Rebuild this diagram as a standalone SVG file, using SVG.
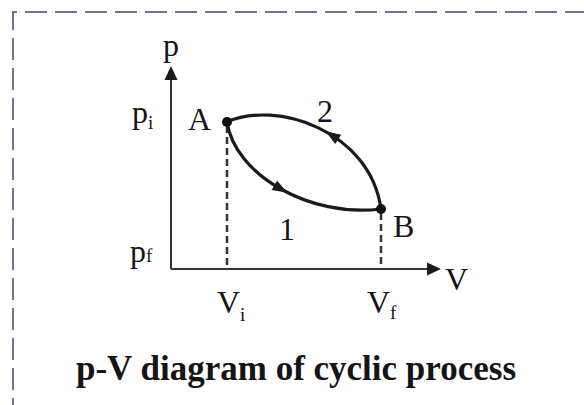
<svg xmlns="http://www.w3.org/2000/svg" width="584" height="405" viewBox="0 0 584 405">
<style>
.lbl{font-family:"Liberation Serif","Times New Roman",serif;font-size:32px;fill:#151515}
.sub{font-size:19px}
.title{font-family:"Liberation Serif","Times New Roman",serif;font-size:35px;font-weight:bold;fill:#151515}
.axis{stroke:#333;stroke-width:2;fill:none}
.curve{stroke:#1a1a1a;stroke-width:3.2;fill:none}
.guide{stroke:#333;stroke-width:2.5;stroke-dasharray:7 4;fill:none}
.head{fill:#1a1a1a}
</style>
<defs>
<path id="ah" d="M8,0 L-7,-5.5 L-7,5.5 Z"/>
</defs>
<rect width="584" height="405" fill="#fff"/>
<path d="M13,420 V12 H600" fill="none" stroke="#7d6b90" stroke-width="2" stroke-dasharray="22 8"/>
<g id="connectors">
<path class="axis" d="M171,269 V78"/>
<path class="head" d="M171,66 L164.5,80 L177.5,80 Z"/>
<path class="axis" d="M171,269 H430"/>
<path class="head" d="M441,269 L427,262.5 L427,275.5 Z"/>
<path class="guide" d="M227,126 V269"/>
<path class="guide" d="M381,213 V269"/>
<path class="curve" d="M227,122 C235,175 310,218 381,209"/>
<path class="curve" d="M227,122 C275,100 370,130 381,209"/>
<use href="#ah" class="head" transform="translate(280.4,188.7) rotate(29.6)"/>
<use href="#ah" class="head" transform="translate(332.3,135.6) rotate(212.5)"/>
</g>
<g id="nodeA"><circle cx="227" cy="122" r="5" fill="#111"/><text class="lbl" x="188" y="130">A</text></g>
<g id="nodeB"><circle cx="381" cy="209" r="5" fill="#111"/><text class="lbl" x="393" y="237">B</text></g>
<g id="label1"><text class="lbl" x="287" y="240" text-anchor="middle">1</text></g>
<g id="label2"><text class="lbl" x="325" y="122" text-anchor="middle">2</text></g>
<g id="axis-p"><text class="lbl" x="171" y="56" text-anchor="middle">p</text></g>
<g id="axis-V"><text class="lbl" x="445" y="290">V</text></g>
<g id="pi"><text class="lbl" x="132" y="123">p<tspan class="sub" dy="6">i</tspan></text></g>
<g id="pf"><text class="lbl" x="130" y="262">p<tspan class="sub" dy="0">f</tspan></text></g>
<g id="Vi"><text class="lbl" x="217" y="313">V<tspan class="sub" dy="8">i</tspan></text></g>
<g id="Vf"><text class="lbl" x="367" y="313">V<tspan class="sub" dy="6">f</tspan></text></g>
<g id="title"><text class="title" x="296" y="380" text-anchor="middle">p-V diagram of cyclic process</text></g>
</svg>
